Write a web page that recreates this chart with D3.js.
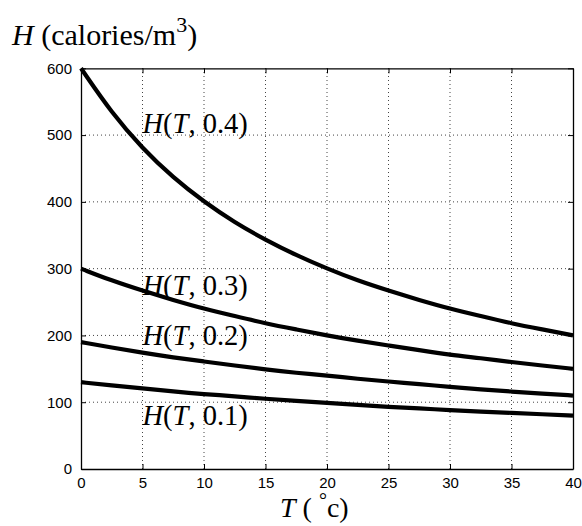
<!DOCTYPE html>
<html><head><meta charset="utf-8">
<script src="https://cdn.jsdelivr.net/npm/d3@7"></script>
<style>body{margin:0;background:#fff}svg{display:block}</style>
</head><body>
<svg id="c" width="582" height="526"></svg>
<script>
const temps = [0, 2.5, 5, 7.5, 10, 12.5, 15, 17.5, 20, 22.5, 25, 27.5, 30, 32.5, 35, 37.5, 40];
const h04 = [600, 533, 480, 436, 400, 369, 343, 320, 300, 282, 267, 253, 240, 229, 218, 209, 200];
const h03 = [300, 282, 267, 253, 240, 229, 218, 209, 200, 192, 185, 178, 171, 166, 160, 155, 150];
const h02 = [190, 182, 174, 167, 161, 155, 149, 144, 140, 135, 131, 127, 123, 119, 116, 113, 110];
const h01 = [130, 125, 121, 116, 112, 109, 105, 102, 99, 96, 93, 91, 88, 86, 84, 82, 80];
const seriesNames = ["0.4", "0.3", "0.2", "0.1"];
const seriesValues = [h04, h03, h02, h01];
const labelT = [5, 5, 5, 5];
const labelH = [503, 260, 186, 66];
const xTicks = [0, 5, 10, 15, 20, 25, 30, 35, 40];
const yTicks = [0, 100, 200, 300, 400, 500, 600];

const L = 81, R = 573, T = 68.3, B = 469;
const svg = d3.select("#c");
const x = d3.scaleLinear().domain([0, 40]).range([L, R]);
const y = d3.scaleLinear().domain([0, 600]).range([B, T]);

// grid
const g = svg.append("g").attr("stroke", "#444").attr("stroke-width", 1).attr("stroke-dasharray", "1,3");
xTicks.slice(1, -1).forEach(t => g.append("line").attr("x1", x(t)).attr("x2", x(t)).attr("y1", B).attr("y2", T));
yTicks.slice(1, -1).forEach(t => g.append("line").attr("y1", y(t)).attr("y2", y(t)).attr("x1", L).attr("x2", R));

// axes (ticks inward, box)
const fontTick = "'Liberation Sans', Arial, sans-serif";
const ax = svg.append("g").attr("transform", `translate(0,${B})`)
  .call(d3.axisBottom(x).tickValues(xTicks).tickSizeInner(-5).tickSizeOuter(0).tickPadding(8));
const axT = svg.append("g").attr("transform", `translate(0,${T})`)
  .call(d3.axisTop(x).tickValues(xTicks).tickSizeInner(-5).tickSizeOuter(0).tickFormat(""));
const ay = svg.append("g").attr("transform", `translate(${L},0)`)
  .call(d3.axisLeft(y).tickValues(yTicks).tickSizeInner(-5).tickSizeOuter(0).tickPadding(9));
const ayR = svg.append("g").attr("transform", `translate(${R},0)`)
  .call(d3.axisRight(y).tickValues(yTicks).tickSizeInner(-5).tickSizeOuter(0).tickFormat(""));
[ax, axT, ay, ayR].forEach(a => {
  a.selectAll("path").attr("stroke", "#000").attr("stroke-width", 1.3);
  a.selectAll("line").attr("stroke", "#000");
  a.selectAll("text").attr("font-family", fontTick).attr("font-size", 15).attr("fill", "#000");
});

// curves
const line = d3.line().x((d, i) => x(temps[i])).y(d => y(d)).curve(d3.curveBasis);
seriesValues.forEach(v => svg.append("path").attr("d", line(v)).attr("fill", "none")
  .attr("stroke", "#000").attr("stroke-width", 4.2).attr("stroke-linecap", "butt"));

// labels
const serif = "'Liberation Serif', 'Times New Roman', serif";
seriesNames.forEach((n, i) => {
  const t = svg.append("text").attr("x", x(labelT[i])).attr("y", y(labelH[i]))
    .attr("font-family", serif).attr("font-size", 28.5).attr("fill", "#000");
  t.append("tspan").attr("font-style", "italic").text("H");
  t.append("tspan").text("(");
  t.append("tspan").attr("font-style", "italic").text("T");
  t.append("tspan").text(", " + n + ")");
});

// y title
const yt = svg.append("text").attr("x", 12).attr("y", 45).attr("font-family", serif).attr("font-size", 30).attr("fill", "#000");
yt.append("tspan").attr("font-style", "italic").text("H");
yt.append("tspan").text(" (calories/m");
yt.append("tspan").attr("font-size", 22).attr("dy", -13).text("3");
yt.append("tspan").attr("dy", 13).text(")");

// x title
const xt = svg.append("text").attr("x", 280).attr("y", 517).attr("font-family", serif).attr("font-size", 28).attr("fill", "#000");
xt.append("tspan").attr("font-style", "italic").text("T");
xt.append("tspan").text(" ( ");
xt.append("tspan").attr("font-size", 20).attr("dy", -10).text("°");
xt.append("tspan").attr("dy", 10).text("c)");
</script>
</body></html>
